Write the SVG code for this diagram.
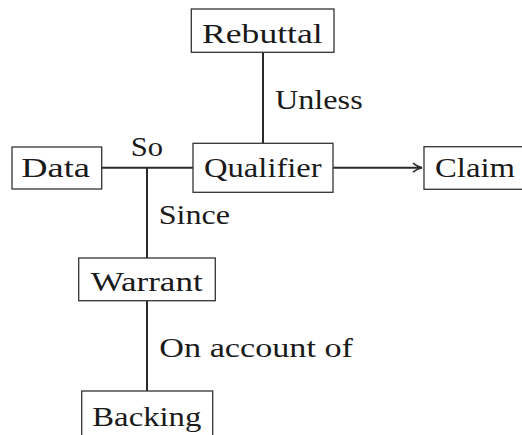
<svg xmlns="http://www.w3.org/2000/svg" width="522" height="435" viewBox="0 0 522 435">
<defs>
<style>
.box{fill:#fff;stroke:#333;stroke-width:1.3}
.t{font-family:"Liberation Serif","DejaVu Serif",serif;font-size:27px;fill:#1a1a1a}
.ln{stroke:#2a2a2a;stroke-width:2;fill:none}
</style>
<marker id="arr" markerWidth="12" markerHeight="12" refX="10" refY="6" orient="auto" markerUnits="userSpaceOnUse">
<path d="M1,1.5 Q5,5 10,6 Q5,7 1,10.5" fill="none" stroke="#2a2a2a" stroke-width="1.6"/>
</marker>
</defs>
<rect width="522" height="435" fill="#fff"/>
<g id="connectors">
<line class="ln" x1="263" y1="52" x2="263" y2="143.5"/>
<line class="ln" x1="101.7" y1="167.7" x2="193" y2="167.7"/>
<line class="ln" x1="333" y1="167.7" x2="422" y2="167.7" marker-end="url(#arr)"/>
<line class="ln" x1="147" y1="167.7" x2="147" y2="258"/>
<line class="ln" x1="147" y1="300.7" x2="147" y2="391"/>
<text class="t" x="275" y="109" textLength="87.7" lengthAdjust="spacingAndGlyphs">Unless</text>
<text class="t" x="130.7" y="155.7" textLength="32.3" lengthAdjust="spacingAndGlyphs">So</text>
<text class="t" x="158.7" y="224.3" textLength="71.3" lengthAdjust="spacingAndGlyphs">Since</text>
<text class="t" x="159.3" y="356.7" textLength="193.7" lengthAdjust="spacingAndGlyphs">On account of</text>
</g>
<g id="rebuttal">
<rect class="box" x="191.3" y="9" width="142.7" height="43.3"/>
<text class="t" x="202" y="42.5" textLength="120.7" lengthAdjust="spacingAndGlyphs">Rebuttal</text>
</g>
<g id="data">
<rect class="box" x="12" y="147" width="89.7" height="42"/>
<text class="t" x="21.3" y="176.7" textLength="68.7" lengthAdjust="spacingAndGlyphs">Data</text>
</g>
<g id="qualifier">
<rect class="box" x="193" y="143.3" width="140" height="49"/>
<text class="t" x="204" y="176.7" textLength="117.7" lengthAdjust="spacingAndGlyphs">Qualifier</text>
</g>
<g id="claim">
<rect class="box" x="424" y="146.7" width="110" height="42.6"/>
<text class="t" x="435" y="176.7" textLength="80" lengthAdjust="spacingAndGlyphs">Claim</text>
</g>
<g id="warrant">
<rect class="box" x="78.7" y="258" width="136.6" height="42.7"/>
<text class="t" x="90.7" y="290.7" textLength="112" lengthAdjust="spacingAndGlyphs">Warrant</text>
</g>
<g id="backing">
<rect class="box" x="81.7" y="391" width="131" height="60"/>
<text class="t" x="92.3" y="425.7" textLength="109" lengthAdjust="spacingAndGlyphs">Backing</text>
</g>
</svg>
